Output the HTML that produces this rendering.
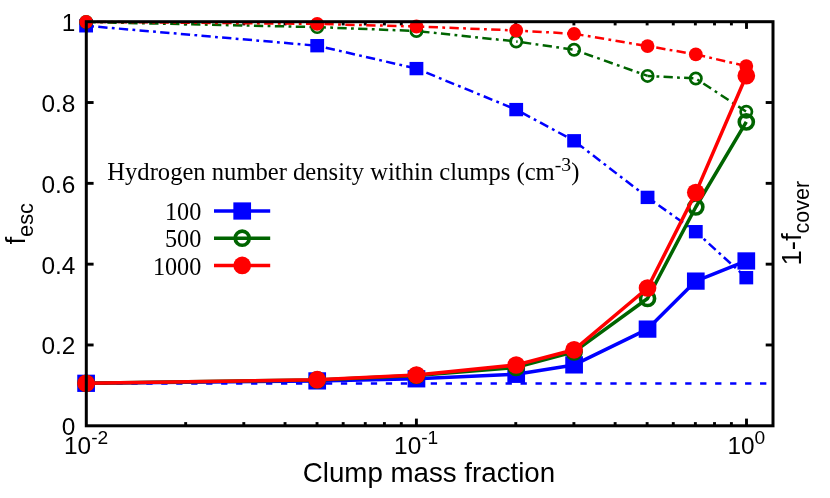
<!DOCTYPE html>
<html><head><meta charset="utf-8"><title>chart</title>
<style>
html,body{margin:0;padding:0;background:#fff;}
body{width:830px;height:498px;overflow:hidden;}
svg{display:block;will-change:transform;}
.sa{font-family:"Liberation Sans",sans-serif;fill:#000;}
.se{font-family:"Liberation Serif",serif;fill:#000;}
</style></head><body>
<svg width="830" height="498" viewBox="0 0 830 498">
<rect width="830" height="498" fill="#ffffff"/>
<g stroke="#000" stroke-width="2.9">
<line x1="86.3" y1="344.98" x2="93.6" y2="344.98"/>
<line x1="773" y1="344.98" x2="765.7" y2="344.98"/>
<line x1="86.3" y1="264.16" x2="93.6" y2="264.16"/>
<line x1="773" y1="264.16" x2="765.7" y2="264.16"/>
<line x1="86.3" y1="183.34" x2="93.6" y2="183.34"/>
<line x1="773" y1="183.34" x2="765.7" y2="183.34"/>
<line x1="86.3" y1="102.52" x2="93.6" y2="102.52"/>
<line x1="773" y1="102.52" x2="765.7" y2="102.52"/>
<line x1="185.67" y1="425.8" x2="185.67" y2="422.1"/>
<line x1="185.67" y1="21.7" x2="185.67" y2="25.4"/>
<line x1="243.8" y1="425.8" x2="243.8" y2="422.1"/>
<line x1="243.8" y1="21.7" x2="243.8" y2="25.4"/>
<line x1="285.04" y1="425.8" x2="285.04" y2="422.1"/>
<line x1="285.04" y1="21.7" x2="285.04" y2="25.4"/>
<line x1="317.03" y1="425.8" x2="317.03" y2="422.1"/>
<line x1="317.03" y1="21.7" x2="317.03" y2="25.4"/>
<line x1="343.17" y1="425.8" x2="343.17" y2="422.1"/>
<line x1="343.17" y1="21.7" x2="343.17" y2="25.4"/>
<line x1="365.27" y1="425.8" x2="365.27" y2="422.1"/>
<line x1="365.27" y1="21.7" x2="365.27" y2="25.4"/>
<line x1="384.41" y1="425.8" x2="384.41" y2="422.1"/>
<line x1="384.41" y1="21.7" x2="384.41" y2="25.4"/>
<line x1="401.3" y1="425.8" x2="401.3" y2="422.1"/>
<line x1="401.3" y1="21.7" x2="401.3" y2="25.4"/>
<line x1="416.4" y1="425.8" x2="416.4" y2="418.6"/>
<line x1="416.4" y1="21.7" x2="416.4" y2="28.9"/>
<line x1="515.77" y1="425.8" x2="515.77" y2="422.1"/>
<line x1="515.77" y1="21.7" x2="515.77" y2="25.4"/>
<line x1="573.9" y1="425.8" x2="573.9" y2="422.1"/>
<line x1="573.9" y1="21.7" x2="573.9" y2="25.4"/>
<line x1="615.14" y1="425.8" x2="615.14" y2="422.1"/>
<line x1="615.14" y1="21.7" x2="615.14" y2="25.4"/>
<line x1="647.13" y1="425.8" x2="647.13" y2="422.1"/>
<line x1="647.13" y1="21.7" x2="647.13" y2="25.4"/>
<line x1="673.27" y1="425.8" x2="673.27" y2="422.1"/>
<line x1="673.27" y1="21.7" x2="673.27" y2="25.4"/>
<line x1="695.37" y1="425.8" x2="695.37" y2="422.1"/>
<line x1="695.37" y1="21.7" x2="695.37" y2="25.4"/>
<line x1="714.51" y1="425.8" x2="714.51" y2="422.1"/>
<line x1="714.51" y1="21.7" x2="714.51" y2="25.4"/>
<line x1="731.4" y1="425.8" x2="731.4" y2="422.1"/>
<line x1="731.4" y1="21.7" x2="731.4" y2="25.4"/>
<line x1="746.5" y1="425.8" x2="746.5" y2="418.6"/>
<line x1="746.5" y1="21.7" x2="746.5" y2="28.9"/>
</g>
<line x1="86.4" y1="383.45" x2="773" y2="383.45" stroke="#0000ff" stroke-width="2.5" stroke-dasharray="6.3 8.67"/>
<line x1="86.1" y1="25.8" x2="317.2" y2="45.7" stroke="#0000ff" stroke-width="2.5" stroke-dasharray="9.3 4.31 2.8 4.31" stroke-dashoffset="8.53"/>
<line x1="317.2" y1="45.7" x2="416.45" y2="68.6" stroke="#0000ff" stroke-width="2.5" stroke-dasharray="9.3 4.27 2.8 4.27" stroke-dashoffset="11.85"/>
<line x1="416.45" y1="68.6" x2="516.2" y2="109.6" stroke="#0000ff" stroke-width="2.5" stroke-dasharray="9.3 4.29 2.8 4.29" stroke-dashoffset="9.97"/>
<line x1="516.2" y1="109.6" x2="574.1" y2="140.8" stroke="#0000ff" stroke-width="2.5" stroke-dasharray="9.3 4.29 2.8 4.29" stroke-dashoffset="14.27"/>
<line x1="574.1" y1="140.8" x2="647.55" y2="197.4" stroke="#0000ff" stroke-width="2.5" stroke-dasharray="9.3 4.29 2.8 4.29" stroke-dashoffset="17.57"/>
<line x1="647.55" y1="197.4" x2="695.8" y2="231.7" stroke="#0000ff" stroke-width="2.5" stroke-dasharray="9.3 4.29 2.8 4.29" stroke-dashoffset="7.17"/>
<line x1="695.8" y1="231.7" x2="746.3" y2="277.7" stroke="#0000ff" stroke-width="2.5" stroke-dasharray="9.3 4.1 2.8 4.1" stroke-dashoffset="2.7"/>
<rect x="79.2" y="19.12" width="13.8" height="13.35" fill="#0000ff"/>
<rect x="310.3" y="39.03" width="13.8" height="13.35" fill="#0000ff"/>
<rect x="409.55" y="61.92" width="13.8" height="13.35" fill="#0000ff"/>
<rect x="509.3" y="102.92" width="13.8" height="13.35" fill="#0000ff"/>
<rect x="567.2" y="134.12" width="13.8" height="13.35" fill="#0000ff"/>
<rect x="640.65" y="190.72" width="13.8" height="13.35" fill="#0000ff"/>
<rect x="688.9" y="225.02" width="13.8" height="13.35" fill="#0000ff"/>
<rect x="739.4" y="271.02" width="13.8" height="13.35" fill="#0000ff"/>
<line x1="86.1" y1="22" x2="317.2" y2="27.1" stroke="#006400" stroke-width="2.5" stroke-dasharray="9.3 4.42 2.8 4.42" stroke-dashoffset="20.6"/>
<line x1="317.2" y1="27.1" x2="416.45" y2="31" stroke="#006400" stroke-width="2.5" stroke-dasharray="9.3 4.35 2.8 4.35" stroke-dashoffset="0.6"/>
<line x1="416.45" y1="31" x2="516.2" y2="41.5" stroke="#006400" stroke-width="2.5" stroke-dasharray="9.3 4.35 2.8 4.35" stroke-dashoffset="17"/>
<line x1="516.2" y1="41.5" x2="574.1" y2="49.7" stroke="#006400" stroke-width="2.5" stroke-dasharray="9.3 4.4 2.8 4.4" stroke-dashoffset="15.05"/>
<line x1="574.1" y1="49.7" x2="647.55" y2="75.9" stroke="#006400" stroke-width="2.5" stroke-dasharray="9.3 4.42 2.8 4.42" stroke-dashoffset="10.15"/>
<line x1="647.55" y1="75.9" x2="695.8" y2="78.5" stroke="#006400" stroke-width="2.5" stroke-dasharray="9.3 4.25 2.8 4.25" stroke-dashoffset="4.6"/>
<line x1="695.8" y1="78.5" x2="746.3" y2="111.7" stroke="#006400" stroke-width="2.5" stroke-dasharray="9.3 4.4 2.8 4.4" stroke-dashoffset="11.9"/>
<circle cx="86.1" cy="22" r="5.65" fill="none" stroke="#006400" stroke-width="2.7"/>
<circle cx="317.2" cy="27.1" r="5.65" fill="none" stroke="#006400" stroke-width="2.7"/>
<circle cx="416.45" cy="31" r="5.65" fill="none" stroke="#006400" stroke-width="2.7"/>
<circle cx="516.2" cy="41.5" r="5.65" fill="none" stroke="#006400" stroke-width="2.7"/>
<circle cx="574.1" cy="49.7" r="5.65" fill="none" stroke="#006400" stroke-width="2.7"/>
<circle cx="647.55" cy="75.9" r="5.65" fill="none" stroke="#006400" stroke-width="2.7"/>
<circle cx="695.8" cy="78.5" r="5.65" fill="none" stroke="#006400" stroke-width="2.7"/>
<circle cx="746.3" cy="111.7" r="5.65" fill="none" stroke="#006400" stroke-width="2.7"/>
<line x1="86.1" y1="21.8" x2="317.2" y2="23.9" stroke="#ff0000" stroke-width="2.5" stroke-dasharray="9.3 4.41 2.8 4.41" stroke-dashoffset="10.22"/>
<line x1="317.2" y1="23.9" x2="416.45" y2="26.5" stroke="#ff0000" stroke-width="2.5" stroke-dasharray="9.3 4.42 2.8 4.42" stroke-dashoffset="13.75"/>
<line x1="416.45" y1="26.5" x2="516.2" y2="30.5" stroke="#ff0000" stroke-width="2.5" stroke-dasharray="9.3 4.38 2.8 4.38" stroke-dashoffset="8.65"/>
<line x1="516.2" y1="30.5" x2="574.1" y2="33.8" stroke="#ff0000" stroke-width="2.5" stroke-dasharray="9.3 4.42 2.8 4.42" stroke-dashoffset="4.7"/>
<line x1="574.1" y1="33.8" x2="647.55" y2="46.1" stroke="#ff0000" stroke-width="2.5" stroke-dasharray="9.3 4.4 2.8 4.4" stroke-dashoffset="20.7"/>
<line x1="647.55" y1="46.1" x2="695.8" y2="54.4" stroke="#ff0000" stroke-width="2.5" stroke-dasharray="9.3 4.25 2.8 4.25" stroke-dashoffset="11.75"/>
<line x1="695.8" y1="54.4" x2="746.3" y2="66.1" stroke="#ff0000" stroke-width="2.5" stroke-dasharray="9.3 4.25 2.8 4.25" stroke-dashoffset="20.35"/>
<circle cx="86.1" cy="21.8" r="6.9" fill="#ff0000"/>
<circle cx="317.2" cy="23.9" r="6.9" fill="#ff0000"/>
<circle cx="416.45" cy="26.5" r="6.9" fill="#ff0000"/>
<circle cx="516.2" cy="30.5" r="6.9" fill="#ff0000"/>
<circle cx="574.1" cy="33.8" r="6.9" fill="#ff0000"/>
<circle cx="647.55" cy="46.1" r="6.9" fill="#ff0000"/>
<circle cx="695.8" cy="54.4" r="6.9" fill="#ff0000"/>
<circle cx="746.3" cy="66.1" r="6.9" fill="#ff0000"/>
<polyline points="86.1,383.3 317.2,380.9 416.45,378.8 516.2,374.3 574.1,364.9 647.55,329.1 695.8,281.1 746.3,260.95" fill="none" stroke="#0000ff" stroke-width="3.5" stroke-linejoin="round"/>
<rect x="77.25" y="374.68" width="17.7" height="17.25" fill="#0000ff"/>
<rect x="308.35" y="372.27" width="17.7" height="17.25" fill="#0000ff"/>
<rect x="407.6" y="370.18" width="17.7" height="17.25" fill="#0000ff"/>
<rect x="507.35" y="365.68" width="17.7" height="17.25" fill="#0000ff"/>
<rect x="565.25" y="356.27" width="17.7" height="17.25" fill="#0000ff"/>
<rect x="638.7" y="320.48" width="17.7" height="17.25" fill="#0000ff"/>
<rect x="686.95" y="272.48" width="17.7" height="17.25" fill="#0000ff"/>
<rect x="737.45" y="252.32" width="17.7" height="17.25" fill="#0000ff"/>
<polyline points="86.1,383.3 317.2,379.9 416.45,375.5 516.2,367.4 574.1,351.9 647.55,298.5 695.8,207 746.3,121.9" fill="none" stroke="#006400" stroke-width="3.5" stroke-linejoin="round"/>
<circle cx="86.1" cy="383.3" r="7.05" fill="none" stroke="#006400" stroke-width="3.6"/>
<circle cx="317.2" cy="379.9" r="7.05" fill="none" stroke="#006400" stroke-width="3.6"/>
<circle cx="416.45" cy="375.5" r="7.05" fill="none" stroke="#006400" stroke-width="3.6"/>
<circle cx="516.2" cy="367.4" r="7.05" fill="none" stroke="#006400" stroke-width="3.6"/>
<circle cx="574.1" cy="351.9" r="7.05" fill="none" stroke="#006400" stroke-width="3.6"/>
<circle cx="647.55" cy="298.5" r="7.05" fill="none" stroke="#006400" stroke-width="3.6"/>
<circle cx="695.8" cy="207" r="7.05" fill="none" stroke="#006400" stroke-width="3.6"/>
<circle cx="746.3" cy="121.9" r="7.05" fill="none" stroke="#006400" stroke-width="3.6"/>
<polyline points="86.1,383.3 317.2,379.7 416.45,375.1 516.2,365 574.1,349.8 647.55,288 695.8,192.6 746.3,75.7" fill="none" stroke="#ff0000" stroke-width="3.5" stroke-linejoin="round"/>
<circle cx="86.1" cy="383.3" r="8.85" fill="#ff0000"/>
<circle cx="317.2" cy="379.7" r="8.85" fill="#ff0000"/>
<circle cx="416.45" cy="375.1" r="8.85" fill="#ff0000"/>
<circle cx="516.2" cy="365" r="8.85" fill="#ff0000"/>
<circle cx="574.1" cy="349.8" r="8.85" fill="#ff0000"/>
<circle cx="647.55" cy="288" r="8.85" fill="#ff0000"/>
<circle cx="695.8" cy="192.6" r="8.85" fill="#ff0000"/>
<circle cx="746.3" cy="75.7" r="8.85" fill="#ff0000"/>
<line x1="214" y1="211" x2="270.2" y2="211" stroke="#0000ff" stroke-width="3.5"/>
<rect x="233.35" y="202.38" width="17.7" height="17.25" fill="#0000ff"/>
<text x="201.3" y="220" text-anchor="end" class="se" font-size="24.2">100</text>
<line x1="214" y1="238.2" x2="270.2" y2="238.2" stroke="#006400" stroke-width="3.5"/>
<circle cx="242.2" cy="238.2" r="7.05" fill="none" stroke="#006400" stroke-width="3.6"/>
<text x="201.3" y="247.4" text-anchor="end" class="se" font-size="24.2">500</text>
<line x1="214" y1="265.4" x2="270.2" y2="265.4" stroke="#ff0000" stroke-width="3.5"/>
<circle cx="242.2" cy="265.4" r="8.85" fill="#ff0000"/>
<text x="201.3" y="274.8" text-anchor="end" class="se" font-size="24.2">1000</text>
<text x="107.3" y="180.2" class="se" font-size="24.6">Hydrogen number density within clumps (cm<tspan font-size="19.8" dy="-9.5">-3</tspan><tspan dy="9.5">)</tspan></text>
<g stroke="#000" stroke-width="3" fill="none">
<rect x="86.3" y="21.7" width="686.7" height="404.1"/>
</g>
<text x="75.4" y="435.25" text-anchor="end" class="sa" font-size="24.4">0</text>
<text x="75.4" y="354.43" text-anchor="end" class="sa" font-size="24.4">0.2</text>
<text x="75.4" y="273.61" text-anchor="end" class="sa" font-size="24.4">0.4</text>
<text x="75.4" y="192.79" text-anchor="end" class="sa" font-size="24.4">0.6</text>
<text x="75.4" y="111.97" text-anchor="end" class="sa" font-size="24.4">0.8</text>
<text x="75.4" y="31.15" text-anchor="end" class="sa" font-size="24.4">1</text>
<text x="86.1" y="453.7" text-anchor="middle" class="sa" font-size="24.4">10<tspan font-size="19.2" dy="-9.9">-2</tspan></text>
<text x="416.2" y="453.7" text-anchor="middle" class="sa" font-size="24.4">10<tspan font-size="19.2" dy="-9.9">-1</tspan></text>
<text x="746.3" y="453.7" text-anchor="middle" class="sa" font-size="24.4">10<tspan font-size="19.2" dy="-9.9">0</tspan></text>
<text x="429.0" y="482.2" text-anchor="middle" class="sa" font-size="27.7">Clump mass fraction</text>
<text transform="translate(25.3,244.6) rotate(-90)" class="sa" font-size="27.6">f<tspan font-size="21.8" dy="7.2">esc</tspan></text>
<text transform="translate(801.4,265.6) rotate(-90)" class="sa" font-size="27.6">1-f<tspan font-size="21.5" dy="7.2">cover</tspan></text>
</svg>
</body></html>
